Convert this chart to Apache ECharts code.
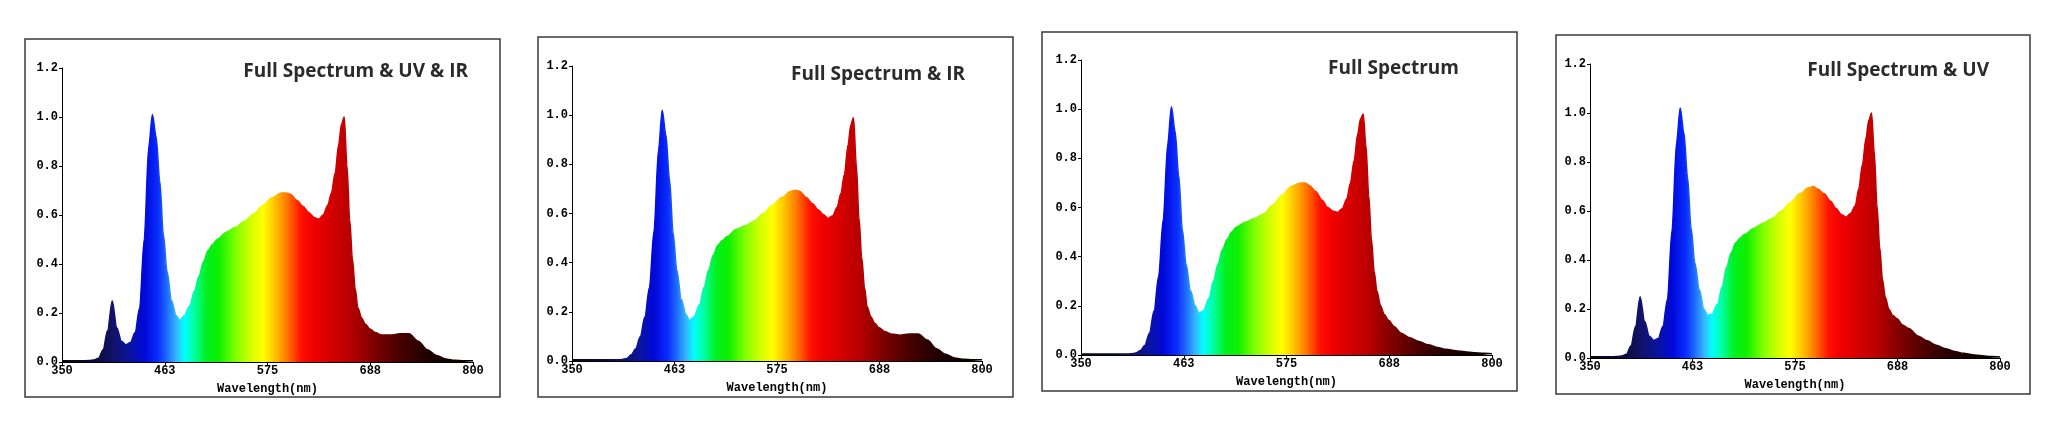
<!DOCTYPE html>
<html>
<head>
<meta charset="utf-8">
<title>Spectrum</title>
<script src="https://cdn.jsdelivr.net/npm/echarts@6/dist/echarts.min.js"></script>
<style>
  html, body { margin: 0; padding: 0; background: #fff; }
  #main { width: 2048px; height: 438px; }
</style>
</head>
<body>
<div id="main"></div>
<script>
// sample wavelengths (nm), shared by all four spectra
var wavelengths = [350, 370, 380, 385, 390, 395, 400, 405, 410, 415, 420, 425, 430, 435, 440, 445, 449, 453, 457, 461,
  465, 470, 475, 479, 484, 490, 495, 500, 505, 510, 515, 520, 530, 540, 550, 560, 570, 580, 590, 595,
  600, 607, 614, 620, 626, 631, 636, 641, 645, 649, 653, 656, 659, 662, 665, 668, 671, 674, 678, 682,
  687, 693, 700, 710, 720, 730, 740, 750, 760, 770, 780, 790, 800];

// relative intensity
var uvIr = [.005, .005, .006, .008, .015, .05, .13, .25, .14, .085, .07, .08, .12, .22, .50, .88, 1.01, .92, .74, .52,
  .37, .25, .19, .17, .19, .23, .29, .35, .41, .455, .48, .50, .53, .55, .575, .605, .64, .67, .69, .69,
  .685, .66, .635, .61, .59, .583, .60, .64, .69, .77, .89, .97, 1.00, .80, .58, .42, .30, .22, .18, .155,
  .135, .12, .11, .11, .115, .115, .085, .05, .027, .012, .007, .005, .005];

var irOnly = [.005, .005, .005, .005, .005, .005, .005, .006, .01, .025, .05, .10, .18, .30, .53, .86, 1.02, .92, .74, .52,
  .37, .25, .19, .165, .18, .23, .30, .37, .43, .47, .49, .505, .535, .55, .57, .60, .635, .665, .69, .695,
  .69, .665, .64, .615, .595, .58, .59, .625, .68, .76, .88, .96, .99, .80, .58, .42, .30, .22, .18, .155,
  .135, .12, .11, .105, .11, .11, .085, .05, .027, .012, .007, .005, .005];

var fullOnly = [.004, .004, .004, .004, .004, .004, .004, .005, .008, .018, .04, .09, .18, .32, .55, .86, 1.01, .91, .73, .51,
  .37, .26, .20, .17, .18, .23, .30, .37, .43, .47, .50, .52, .54, .555, .575, .61, .65, .685, .70, .70,
  .69, .665, .63, .60, .585, .58, .595, .635, .70, .79, .90, .96, .98, .85, .65, .47, .34, .26, .20, .165,
  .14, .115, .09, .07, .055, .042, .031, .023, .017, .013, .009, .007, .005];

var uvOnly = [.005, .005, .006, .008, .015, .05, .13, .25, .15, .09, .072, .08, .13, .24, .52, .88, 1.02, .92, .74, .53,
  .39, .28, .20, .175, .18, .22, .29, .37, .43, .47, .49, .505, .53, .55, .57, .60, .635, .67, .695, .70,
  .69, .67, .64, .61, .585, .575, .59, .62, .69, .79, .90, .97, 1.00, .84, .62, .45, .32, .25, .20, .175,
  .16, .135, .12, .09, .07, .052, .038, .027, .019, .013, .009, .006, .004];

var titles = ['Full Spectrum & UV & IR', 'Full Spectrum & IR', 'Full Spectrum', 'Full Spectrum & UV'];
var spectra = [uvIr, irOnly, fullOnly, uvOnly];
var xTicks = [350, 462.5, 575, 687.5, 800];

// frame box and plot area of each panel, px
var frames = [
  { x: 25, y: 39, w: 475, h: 358, left: 62, top: 68, width: 411, height: 294, titleX: 468, titleY: 72 },
  { x: 538, y: 37, w: 475, h: 360, left: 572, top: 66, width: 410, height: 295, titleX: 965, titleY: 75 },
  { x: 1042, y: 32, w: 475, h: 359, left: 1081, top: 60, width: 411, height: 295, titleX: 1459, titleY: 69 },
  { x: 1556, y: 35, w: 474, h: 359, left: 1590, top: 64, width: 410, height: 294, titleX: 1989, titleY: 71 }
];

// colour of light along 350..800 nm
function spectrumGradient() {
  var stops = [
    [350, '#06060c'], [385, '#0a0a36'], [405, '#121265'], [425, '#0a14a0'], [440, '#0008d8'],
    [455, '#0a2cff'], [465, '#1e6cff'], [475, '#36b4ff'], [484, '#00ffff'], [495, '#00ffa0'],
    [508, '#00f020'], [522, '#10f000'], [540, '#80ff00'], [558, '#d8ff00'], [570, '#ffff00'],
    [582, '#ffc800'], [596, '#ff7a00'], [612, '#ff1000'], [625, '#f00000'], [645, '#d40000'],
    [665, '#b80000'], [690, '#800000'], [720, '#480000'], [750, '#200000'], [800, '#050000']
  ];
  return new echarts.graphic.LinearGradient(0, 0, 1, 0, stops.map(function (s) {
    return { offset: (s[0] - 350) / 450, color: s[1] };
  }));
}

var tickFont = { fontFamily: 'Liberation Mono', fontWeight: 'bold', fontSize: 12, color: '#000' };

var grids = [], xAxes = [], yAxes = [], series = [], graphics = [];
frames.forEach(function (f, i) {
  grids.push({ left: f.left, top: f.top, width: f.width, height: f.height });
  xAxes.push({
    type: 'value', gridIndex: i, min: 350, max: 800,
    name: 'Wavelength(nm)', nameLocation: 'middle', nameGap: 21,
    nameTextStyle: { fontFamily: 'Liberation Mono', fontWeight: 'bold', fontSize: 12, color: '#000' },
    axisLine: { lineStyle: { color: '#000', width: 1 } },
    axisTick: { length: 3, customValues: xTicks, lineStyle: { color: '#000' } },
    axisLabel: Object.assign({ customValues: xTicks, margin: 3, formatter: function (v) { return Math.round(v); } }, tickFont),
    splitLine: { show: false }
  });
  yAxes.push({
    type: 'value', gridIndex: i, min: 0, max: 1.2, interval: 0.2,
    axisLine: { show: true, lineStyle: { color: '#000', width: 1 } },
    axisTick: { show: true, length: 3, lineStyle: { color: '#000' } },
    axisLabel: Object.assign({ margin: 4, formatter: function (v) { return v.toFixed(1); } }, tickFont),
    splitLine: { show: false }
  });
  series.push({
    type: 'line', xAxisIndex: i, yAxisIndex: i,
    data: wavelengths.map(function (w, k) { return [w, spectra[i][k]]; }),
    showSymbol: false, smooth: 0.3, smoothMonotone: 'x',
    lineStyle: { width: 1.5, color: spectrumGradient() },
    areaStyle: { color: spectrumGradient(), opacity: 1 },
    z: 2
  });
  graphics.push({
    type: 'rect', shape: { x: f.x, y: f.y, width: f.w, height: f.h },
    style: { fill: null, stroke: '#3a3a3a', lineWidth: 1.5 }, silent: true
  });
  graphics.push({
    type: 'text', x: f.titleX, y: f.titleY,
    style: { text: titles[i], fill: '#2b2b2b', font: 'bold 19px "Open Sans"', textAlign: 'right', textVerticalAlign: 'middle' },
    silent: true
  });
});

var chart = echarts.init(document.getElementById('main'));
chart.setOption({
  animation: false,
  backgroundColor: '#fff',
  grid: grids,
  xAxis: xAxes,
  yAxis: yAxes,
  series: series,
  graphic: graphics
});
</script>
</body>
</html>
